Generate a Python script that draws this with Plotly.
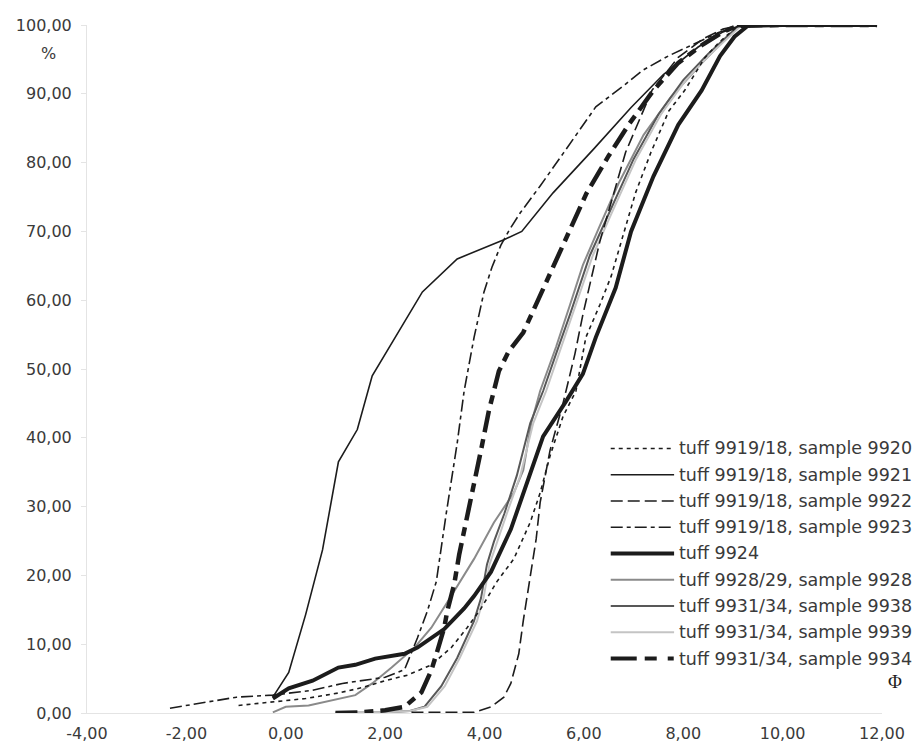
import plotly.graph_objects as go

# ---------------- data ----------------
x_ticks = [-4, -2, 0, 2, 4, 6, 8, 10, 12]
x_tick_labels = ["-4,00", "-2,00", "0,00", "2,00", "4,00", "6,00", "8,00", "10,00", "12,00"]
y_ticks = [0, 10, 20, 30, 40, 50, 60, 70, 80, 90, 100]
y_tick_labels = ["0,00", "10,00", "20,00", "30,00", "40,00", "50,00",
                 "60,00", "70,00", "80,00", "90,00", "100,00"]

series_names = [
    "tuff 9919/18, sample 9920",
    "tuff 9919/18, sample 9921",
    "tuff 9919/18, sample 9922",
    "tuff 9919/18, sample 9923",
    "tuff 9924",
    "tuff 9928/29, sample 9928",
    "tuff 9931/34, sample 9938",
    "tuff 9931/34, sample 9939",
    "tuff 9931/34, sample 9934",
]

phi_9920 = [-0.95, -0.33, 0.40, 1.06, 1.54, 2.00, 2.45, 2.93, 3.33, 3.65, 3.93, 4.25, 4.59, 4.92,
            5.12, 5.32, 5.58, 5.84, 6.04, 6.32, 6.55, 6.78, 7.04, 7.35, 7.71, 8.03, 8.43, 8.71, 9.10, 10.0]
pct_9920 = [1.1, 1.6, 2.1, 2.9, 3.7, 4.7, 5.5, 7.0, 9.5, 12.4, 15.2, 19.1, 22.4, 27.7,
            32.0, 37.4, 43.1, 46.8, 54.6, 59.3, 63.5, 69.2, 75.6, 81.5, 87.5, 90.5, 95.2, 97.4, 99.9, 100]

phi_9921 = [-0.26, 0.06, 0.40, 0.74, 1.06, 1.44, 1.74, 2.25, 2.75, 3.45, 4.39, 4.75, 5.38, 6.20,
            6.95, 7.60, 8.30, 8.80, 9.10, 10.0, 11.9]
pct_9921 = [2.3, 5.9, 14.3, 23.7, 36.5, 41.2, 49.0, 55.1, 61.2, 66.0, 68.8, 70.0, 75.6, 82.0,
            88.0, 92.8, 96.8, 99.0, 99.8, 100, 100]

phi_9922 = [2.53, 3.79, 4.13, 4.39, 4.53, 4.69, 4.78, 4.94, 5.04, 5.12, 5.32, 5.58, 5.82, 5.98,
            6.32, 6.84, 7.37, 7.90, 8.40, 8.80, 9.10, 10.0]
pct_9922 = [0.1, 0.1, 0.9, 2.3, 4.3, 8.6, 13.4, 20.5, 25.3, 30.6, 38.2, 45.0, 52.2, 57.9,
            68.5, 81.5, 90.5, 95.3, 98.0, 99.4, 99.9, 100]

phi_9923 = [-2.33, -0.99, -0.26, 0.54, 1.14, 1.60, 2.00, 2.39, 2.65, 2.85, 3.03, 3.23, 3.45, 3.59,
            3.79, 3.99, 4.15, 4.33, 4.49, 4.72, 5.12, 5.58, 5.92, 6.24, 6.84, 7.18, 7.70, 8.17,
            8.71, 9.10, 10.0]
pct_9923 = [0.7, 2.3, 2.6, 3.3, 4.3, 4.8, 5.2, 6.3, 10.9, 14.8, 19.1, 29.0, 39.2, 46.8,
            54.6, 61.2, 64.8, 68.0, 70.1, 72.7, 76.6, 81.3, 84.8, 88.1, 91.4, 93.4, 95.5, 97.1,
            98.9, 99.8, 100]

phi_9924 = [-0.26, 0.06, 0.54, 1.06, 1.40, 1.80, 2.39, 2.65, 3.19, 3.59, 3.79, 4.13, 4.53, 4.84,
            5.18, 5.64, 5.98, 6.24, 6.64, 6.95, 7.40, 7.90, 8.37, 8.74, 9.03, 9.30, 10.0, 11.9]
pct_9924 = [2.1, 3.6, 4.7, 6.6, 7.0, 7.9, 8.6, 9.5, 12.2, 15.2, 17.0, 20.5, 26.7, 33.0,
            40.2, 45.3, 49.3, 54.6, 61.8, 70.0, 78.0, 85.5, 90.5, 95.5, 98.3, 99.9, 100, 100]

phi_9928 = [-0.26, 0.00, 0.46, 0.94, 1.40, 1.74, 2.13, 2.59, 2.93, 3.33, 3.79, 4.19, 4.59, 4.78,
            4.94, 5.12, 5.44, 5.72, 5.98, 6.32, 6.70, 7.20, 7.75, 8.35, 8.75, 9.10, 10.0, 11.9]
pct_9928 = [0.1, 0.9, 1.1, 1.9, 2.6, 4.3, 6.6, 9.5, 12.4, 17.0, 22.4, 27.7, 32.0, 35.3,
            42.1, 46.8, 53.2, 59.3, 65.1, 70.8, 77.0, 84.0, 89.5, 94.3, 97.3, 99.8, 100, 100]

phi_9938 = [1.00, 2.00, 2.50, 2.79, 3.13, 3.45, 3.79, 3.93, 4.05, 4.19, 4.40, 4.65, 4.92, 5.18,
            5.44, 5.72, 6.12, 6.50, 7.00, 7.50, 8.00, 8.50, 8.85, 9.10, 10.0, 11.9]
pct_9938 = [0.0, 0.1, 0.3, 0.9, 3.9, 8.0, 13.4, 16.7, 21.6, 24.9, 29.0, 34.5, 42.1, 46.8,
            52.2, 57.9, 66.5, 72.5, 80.5, 87.0, 92.0, 95.8, 98.2, 99.8, 100, 100]

phi_9939 = [1.00, 2.00, 2.50, 2.85, 3.20, 3.50, 3.85, 3.98, 4.10, 4.25, 4.45, 4.72, 4.98, 5.24,
            5.50, 5.78, 6.18, 6.55, 7.05, 7.55, 8.05, 8.55, 8.90, 9.15, 10.0, 11.9]
pct_9939 = [0.0, 0.1, 0.3, 0.9, 3.9, 8.0, 13.4, 16.7, 21.6, 24.9, 29.0, 34.5, 42.1, 46.8,
            52.2, 57.9, 66.5, 72.5, 80.5, 87.0, 92.0, 95.8, 98.2, 99.8, 100, 100]

phi_9934 = [1.00, 1.50, 2.00, 2.39, 2.73, 2.93, 3.05, 3.19, 3.25, 3.39, 3.49, 3.59, 3.75, 3.93,
            4.09, 4.29, 4.49, 4.78, 5.18, 5.58, 6.05, 6.50, 6.90, 7.40, 7.90, 8.40, 8.80, 9.10, 10.0, 11.9]
pct_9934 = [0.0, 0.1, 0.4, 0.9, 3.0, 6.2, 9.0, 12.4, 14.8, 18.7, 23.0, 26.7, 32.0, 38.2,
            44.0, 49.7, 52.6, 55.3, 61.8, 68.0, 75.5, 81.0, 85.5, 90.5, 94.5, 97.2, 99.0, 99.9, 100, 100]

# ---------------- styles ----------------
BLACK = "#1c1c1c"
styles = [
    dict(color=BLACK, width=1.6, dash="4px,4px"),
    dict(color=BLACK, width=1.6, dash="solid"),
    dict(color=BLACK, width=1.6, dash="12px,5px"),
    dict(color=BLACK, width=1.6, dash="12px,4px,4px,4px"),
    dict(color=BLACK, width=4.0, dash="solid"),
    dict(color="#8a8a8a", width=2.0, dash="solid"),
    dict(color="#585858", width=2.0, dash="solid"),
    dict(color="#c4c4c4", width=2.0, dash="solid"),
    dict(color=BLACK, width=4.5, dash="22px,7px,9px,7px"),
]
legend_dash = ["4px,4px", "solid", "12px,5px", "12px,4px,4px,4px", "solid",
               "solid", "solid", "solid", "26px,8px,12px,11px,6px,10px"]

xs = [phi_9920, phi_9921, phi_9922, phi_9923, phi_9924, phi_9928, phi_9938, phi_9939, phi_9934]
ys = [pct_9920, pct_9921, pct_9922, pct_9923, pct_9924, pct_9928, pct_9938, pct_9939, pct_9934]

# drawing order: greys first, then black lines on top
order = [5, 6, 7, 0, 2, 3, 1, 8, 4]

fig = go.Figure()
for i in order:
    fig.add_trace(go.Scatter(x=xs[i], y=ys[i], mode="lines", name=series_names[i],
                             line=dict(color=styles[i]["color"], width=styles[i]["width"],
                                       dash=styles[i]["dash"]),
                             showlegend=False, hoverinfo="x+y+name"))

W, H = 921, 747
OFF = 8  # the page body margin shifts the figure by this many pixels
# plot area in screenshot pixels: x=-4 at 79, x=12 at 882, y=100 at 16, y=0 at 713
ML = 79 - OFF
MT = 16 - OFF
MR = W - (882 - OFF)
MB = H - (713 - OFF)
PW, PH = W - ML - MR, H - MT - MB

def px_to_paper(px, py):
    # screenshot pixel -> paper coordinates
    fx, fy = px - OFF, py - OFF
    return (fx - ML) / PW, (H - MB - fy) / PH

FONT = "DejaVu Sans"
TXT = "#3a3a3a"

shapes = []
annotations = []
for k in range(len(series_names)):
    row_y = 445 + k * 26.6
    x0, yy = px_to_paper(608, row_y)
    x1, _ = px_to_paper(672, row_y)
    tx, _ = px_to_paper(675, row_y)
    st = styles[k]
    shapes.append(dict(type="line", xref="paper", yref="paper", x0=x0, x1=x1, y0=yy, y1=yy,
                       line=dict(color=st["color"], width=min(st["width"], 4.0), dash=legend_dash[k])))
    annotations.append(dict(text=series_names[k], xref="paper", yref="paper", x=tx, y=yy,
                            xanchor="left", yanchor="middle", showarrow=False,
                            font=dict(family=FONT, size=17.5, color=TXT)))

pxp, pyp = px_to_paper(40, 45)
annotations.append(dict(text="%", xref="paper", yref="paper", x=pxp, y=pyp, xanchor="center",
                        yanchor="middle", showarrow=False, font=dict(family=FONT, size=16, color=TXT)))
fx, fy = px_to_paper(895, 681)
annotations.append(dict(text="Φ", xref="paper", yref="paper", x=fx, y=fy, xanchor="center",
                        yanchor="middle", showarrow=False,
                        font=dict(family="Liberation Serif", size=19, color=BLACK)))

fig.update_layout(
    width=W, height=H,
    margin=dict(l=ML, r=MR, t=MT, b=MB),
    paper_bgcolor="white", plot_bgcolor="white",
    showlegend=False,
    font=dict(family=FONT, size=16, color=TXT),
    shapes=shapes, annotations=annotations,
    xaxis=dict(range=[-4, 12], tickvals=x_ticks, ticktext=x_tick_labels,
               showgrid=False, zeroline=False, showline=True, linecolor="#e4e4e4", linewidth=1,
               ticks="", tickfont=dict(family=FONT, size=16, color=TXT), ticklabelstandoff=6,
               ticklabeloverflow="allow"),
    yaxis=dict(range=[0, 100], tickvals=y_ticks, ticktext=y_tick_labels,
               showgrid=False, zeroline=False, showline=True, linecolor="#e4e4e4", linewidth=1,
               ticks="outside", ticklen=5, tickcolor="#e4e4e4",
               tickfont=dict(family=FONT, size=16, color=TXT), ticklabelstandoff=6,
               ticklabeloverflow="allow"),
)

fig.write_html("out.html")
